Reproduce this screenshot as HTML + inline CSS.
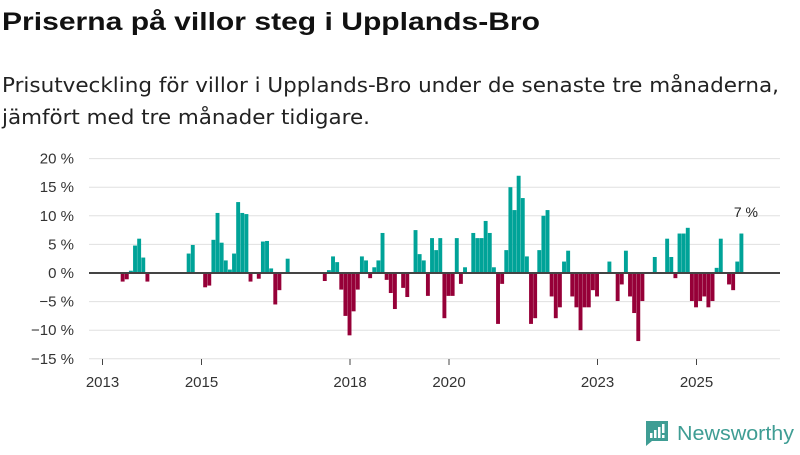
<!DOCTYPE html>
<html><head><meta charset="utf-8"><style>
body{margin:0;width:800px;height:450px;background:#fff;font-family:"Liberation Sans",sans-serif;overflow:hidden}
</style></head><body>
<svg width="800" height="450" xmlns="http://www.w3.org/2000/svg">
<text x="2" y="30" font-size="25" font-weight="bold" fill="#111" textLength="538" lengthAdjust="spacingAndGlyphs">Priserna på villor steg i Upplands-Bro</text>
<text x="2" y="92" font-size="20" fill="#222" font-family="DejaVu Sans, sans-serif" textLength="777" lengthAdjust="spacingAndGlyphs">Prisutveckling för villor i Upplands-Bro under de senaste tre månaderna,</text>
<text x="2" y="124" font-size="20" fill="#222" font-family="DejaVu Sans, sans-serif" textLength="368" lengthAdjust="spacingAndGlyphs">jämfört med tre månader tidigare.</text>
<g id="grid"></g>
<g id="bars"></g>
<g id="xaxis"></g>
<text x="758" y="217" font-size="14" fill="#222" text-anchor="end">7 %</text>
<g>
<path d="M646 421 h22 v20 h-16 l-6 5 z" fill="#3f9d94"/>
<rect x="650" y="433" width="2.5" height="5" fill="#fff"/>
<rect x="654" y="430" width="2.5" height="8" fill="#fff"/>
<rect x="658" y="427" width="2.5" height="11" fill="#fff"/>
<rect x="662" y="424" width="2.5" height="9" fill="#fff"/>
<rect x="662" y="435" width="2.5" height="3" fill="#fff"/>
<text x="677" y="440" font-size="20" fill="#3f9d94" textLength="117" lengthAdjust="spacingAndGlyphs">Newsworthy</text>
</g>
</svg>
<script>
const yTicks=[20,15,10,5,0,-5,-10,-15];
const yearLabels=[2013,2015,2018,2020,2023,2025];
const monthIndex=[4,5,6,7,8,9,10,20,21,24,25,26,27,28,29,30,31,32,33,34,35,37,38,39,40,41,42,44,53,54,55,56,57,58,59,60,61,62,63,64,65,66,67,68,69,70,72,73,75,76,77,78,79,80,81,82,83,84,85,86,87,89,90,91,92,93,94,95,96,97,98,99,100,101,102,103,104,105,106,107,108,109,110,111,112,113,114,115,116,117,118,119,122,124,125,126,127,128,129,130,133,136,137,138,139,140,141,142,143,144,145,146,147,148,149,151,152,153,154];
const values=[-1.5,-1.1,0.4,4.8,6.0,2.7,-1.5,3.4,4.9,-2.5,-2.2,5.8,10.5,5.3,2.2,0.6,3.4,12.4,10.5,10.3,-1.5,-1.0,5.5,5.6,0.8,-5.5,-3.0,2.5,-1.4,0.5,2.9,1.9,-2.9,-7.5,-10.9,-6.7,-2.9,2.9,2.2,-0.9,1.0,2.2,7.0,-1.2,-3.5,-6.3,-2.6,-4.2,7.5,3.3,2.2,-4.0,6.1,4.0,6.1,-7.9,-4.0,-4.0,6.1,-1.9,1.0,7.0,6.1,6.1,9.1,7.0,1.0,-8.9,-1.9,4.0,15.0,11.0,17.0,13.1,2.9,-8.9,-7.9,4.0,10.0,11.0,-4.1,-7.9,-6.0,2.0,3.9,-4.1,-6.0,-10.0,-6.0,-6.0,-3.0,-4.1,2.0,-4.9,-2.0,3.9,-4.1,-7.0,-11.9,-4.9,2.8,6.0,2.8,-0.9,6.9,6.9,7.9,-4.9,-6.0,-4.9,-4.1,-6.0,-4.9,0.9,6.0,-2.0,-3.0,2.0,6.9];
const NS='http://www.w3.org/2000/svg';
const y=v=>273-v*5.72;
const x=i=>103+i*4.125;
const yearX=yr=>x((yr-2013)*12);
const grid=document.getElementById('grid');
yTicks.forEach(t=>{
  if(t!==0){const l=document.createElementNS(NS,'line');
  l.setAttribute('x1',89);l.setAttribute('x2',780);l.setAttribute('y1',y(t));l.setAttribute('y2',y(t));
  l.setAttribute('stroke','#e0e0e0');l.setAttribute('stroke-width',1);
  
  
  grid.appendChild(l);}
  const tx=document.createElementNS(NS,'text');
  tx.setAttribute('x',74);tx.setAttribute('y',y(t)+5);tx.setAttribute('text-anchor','end');
  tx.setAttribute('font-size',15);tx.setAttribute('fill','#333');
  tx.textContent=(t<0?'\u2212'+(-t):t)+' %';
  
  
  grid.appendChild(tx);
});
const bars=document.getElementById('bars');
monthIndex.forEach((m,k)=>{
  const v=values[k];const r=document.createElementNS(NS,'rect');
  r.setAttribute('x',x(m)+1.2);r.setAttribute('width',3.9);
  r.setAttribute('y',Math.min(y(v),y(0)));r.setAttribute('height',Math.abs(y(v)-y(0)));
  r.setAttribute('fill',v>=0?'#00a398':'#960038');
  
  
  bars.appendChild(r);
});
const zl=document.createElementNS(NS,'line');
zl.setAttribute('x1',89);zl.setAttribute('x2',780);zl.setAttribute('y1',y(0));zl.setAttribute('y2',y(0));
zl.setAttribute('stroke','#444');zl.setAttribute('stroke-width',2);


bars.appendChild(zl);
const xa=document.getElementById('xaxis');
yearLabels.forEach(yr=>{
  const px=yearX(yr)-0.5;
  const l=document.createElementNS(NS,'line');
  l.setAttribute('x1',px);l.setAttribute('x2',px);l.setAttribute('y1',359);l.setAttribute('y2',365);
  l.setAttribute('stroke','#444');l.setAttribute('stroke-width',1);
  
  
  xa.appendChild(l);
  const t=document.createElementNS(NS,'text');
  t.setAttribute('x',px);t.setAttribute('y',387);t.setAttribute('text-anchor','middle');
  t.setAttribute('font-size',15);t.setAttribute('fill','#333');t.textContent=yr;
  
  
  xa.appendChild(t);
});
</script>
</body></html>
